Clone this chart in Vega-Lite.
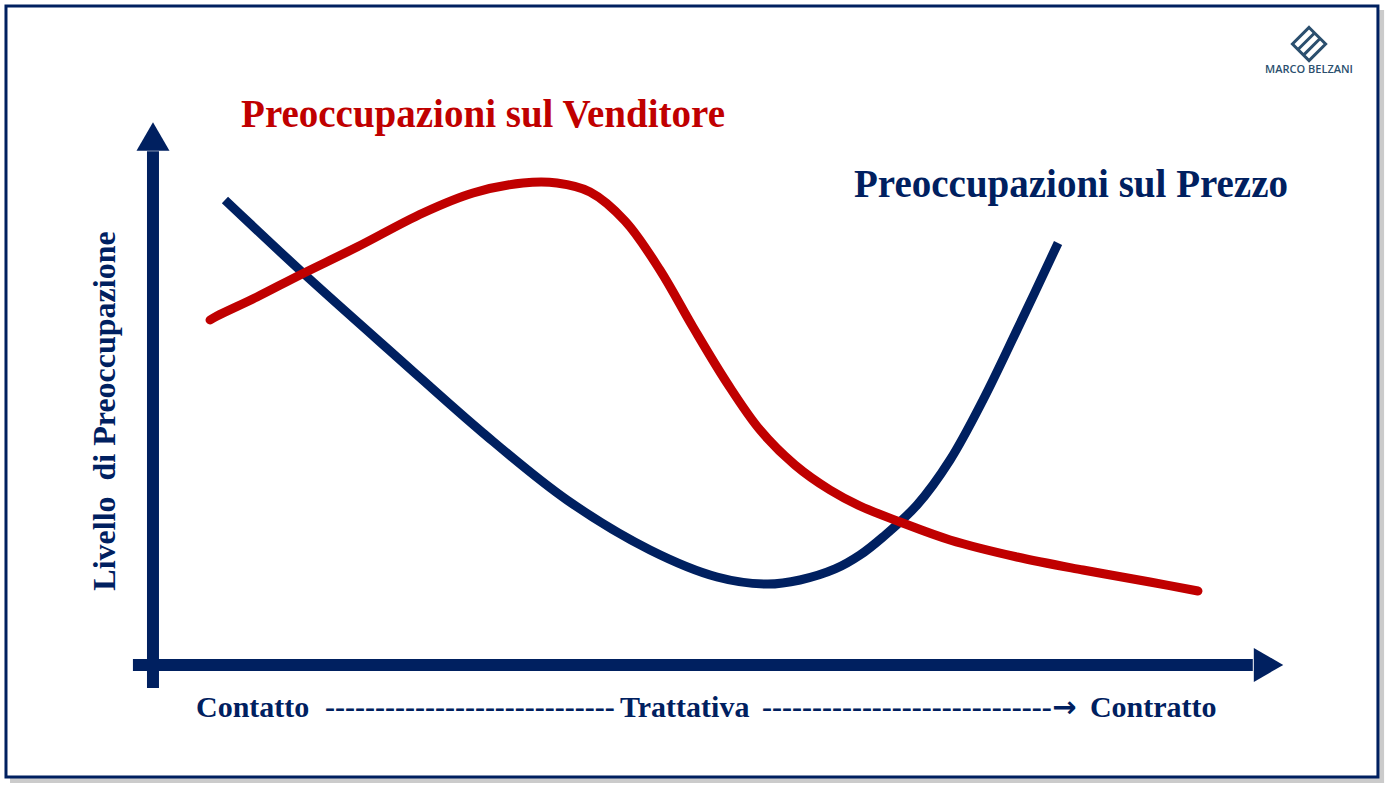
{
  "$schema": "https://vega.github.io/schema/vega-lite/v6.json",
  "width": 1392,
  "height": 792,
  "padding": 0,
  "autosize": {"type": "fit", "contains": "padding"},
  "background": "white",
  "config": {"view": {"stroke": null}},
  "datasets": {
    "shadow": [{"x": 0.72, "x2": 99.43, "y": 98.74, "y2": 1.14}],
    "frame": [{"x": 0.43, "x2": 98.99, "y": 99.24, "y2": 1.89}],
    "vaxis": [{"x": 10.99, "y": 13.13, "y2": 80.9}],
    "haxis": [{"x": 9.55, "x2": 90.0, "y": 16.04}],
    "uparrow": [{"x": 10.99, "y": 82.77}],
    "rightarrow": [{"x": 91.13, "y": 16.04}],
    "prezzo": [
      {"x": 16.16, "y": 74.75}, {"x": 21.77, "y": 65.53}, {"x": 28.52, "y": 54.92},
      {"x": 34.7, "y": 45.33}, {"x": 40.73, "y": 36.87}, {"x": 46.7, "y": 30.56},
      {"x": 51.51, "y": 27.15}, {"x": 55.1, "y": 26.26},
      {"x": 57.47, "y": 26.77}, {"x": 59.99, "y": 28.16}, {"x": 61.78, "y": 29.92},
      {"x": 63.43, "y": 32.2}, {"x": 65.88, "y": 36.24}, {"x": 68.25, "y": 41.92},
      {"x": 70.62, "y": 49.49}, {"x": 73.06, "y": 58.33}, {"x": 76.01, "y": 69.32}
    ],
    "venditore": [
      {"x": 15.09, "y": 59.6}, {"x": 15.59, "y": 60.1}, {"x": 18.46, "y": 62.5},
      {"x": 21.55, "y": 65.28}, {"x": 25.65, "y": 68.81}, {"x": 30.39, "y": 73.11},
      {"x": 33.98, "y": 75.63}, {"x": 37.57, "y": 76.89}, {"x": 40.01, "y": 76.89},
      {"x": 42.39, "y": 75.76}, {"x": 44.9, "y": 72.1}, {"x": 47.41, "y": 65.91},
      {"x": 49.78, "y": 58.71}, {"x": 52.23, "y": 51.64}, {"x": 54.6, "y": 45.71},
      {"x": 57.11, "y": 41.29}, {"x": 59.63, "y": 38.13}, {"x": 61.78, "y": 36.11},
      {"x": 64.66, "y": 34.09}, {"x": 68.25, "y": 31.82}, {"x": 73.06, "y": 29.67},
      {"x": 77.8, "y": 28.03}, {"x": 82.61, "y": 26.52}, {"x": 86.06, "y": 25.38}
    ],
    "titleRed": [{"x": 34.7, "y": 83.96, "t": "Preoccupazioni sul Venditore"}],
    "titleBlue": [{"x": 76.94, "y": 75.13, "t": "Preoccupazioni sul Prezzo"}],
    "ylabel": [{"x": 8.26, "y": 48.11, "t": "Livello\u00a0 di Preoccupazione"}],
    "xlabels": [
      {"x": 14.08, "y": 9.47, "t": "Contatto"},
      {"x": 23.35, "y": 9.47, "t": "-----------------------------"},
      {"x": 44.54, "y": 9.47, "t": "Trattativa"},
      {"x": 54.74, "y": 9.47, "t": "-----------------------------"},
      {"x": 78.3, "y": 9.47, "t": "Contratto"}
    ],
    "arrowchar": [{"x": 75.6, "y": 9.47, "t": "→"}],
    "logo": [{"x": 94.04, "y": 94.44}],
    "logotext": [{"x": 94.04, "y": 90.78, "t": "MARCO BELZANI"}]
  },
  "layer": [
    {
      "data": {"name": "shadow"},
      "mark": {"type": "rect", "color": "#a0a0a0", "opacity": 0.55},
      "encoding": {
        "x": {"field": "x", "type": "quantitative", "scale": {"domain": [0, 100], "nice": false, "zero": false}, "axis": null},
        "x2": {"field": "x2"},
        "y": {"field": "y", "type": "quantitative", "scale": {"domain": [0, 100], "nice": false, "zero": false}, "axis": null},
        "y2": {"field": "y2"}
      }
    },
    {
      "data": {"name": "frame"},
      "mark": {"type": "rect", "fill": "white", "stroke": "#002060", "strokeWidth": 3},
      "encoding": {
        "x": {"field": "x", "type": "quantitative", "axis": null},
        "x2": {"field": "x2"},
        "y": {"field": "y", "type": "quantitative", "axis": null},
        "y2": {"field": "y2"}
      }
    },
    {
      "data": {"name": "vaxis"},
      "mark": {"type": "rule", "color": "#002060", "strokeWidth": 12, "strokeCap": "butt"},
      "encoding": {
        "x": {"field": "x", "type": "quantitative", "axis": null},
        "y": {"field": "y", "type": "quantitative", "axis": null},
        "y2": {"field": "y2"}
      }
    },
    {
      "data": {"name": "haxis"},
      "mark": {"type": "rule", "color": "#002060", "strokeWidth": 12, "strokeCap": "butt"},
      "encoding": {
        "x": {"field": "x", "type": "quantitative", "axis": null},
        "x2": {"field": "x2"},
        "y": {"field": "y", "type": "quantitative", "axis": null}
      }
    },
    {
      "data": {"name": "uparrow"},
      "mark": {"type": "point", "shape": "triangle-up", "filled": true, "color": "#002060", "opacity": 1, "size": 1089, "strokeWidth": 0},
      "encoding": {
        "x": {"field": "x", "type": "quantitative", "axis": null},
        "y": {"field": "y", "type": "quantitative", "axis": null}
      }
    },
    {
      "data": {"name": "rightarrow"},
      "mark": {"type": "point", "shape": "triangle-right", "filled": true, "color": "#002060", "opacity": 1, "size": 1156, "strokeWidth": 0},
      "encoding": {
        "x": {"field": "x", "type": "quantitative", "axis": null},
        "y": {"field": "y", "type": "quantitative", "axis": null}
      }
    },
    {
      "data": {"name": "prezzo"},
      "mark": {"type": "line", "color": "#002060", "strokeWidth": 9, "interpolate": "catmull-rom"},
      "encoding": {
        "x": {"field": "x", "type": "quantitative", "axis": null},
        "y": {"field": "y", "type": "quantitative", "axis": null}
      }
    },
    {
      "data": {"name": "venditore"},
      "mark": {"type": "line", "color": "#C00000", "strokeWidth": 9, "interpolate": "catmull-rom", "strokeCap": "round"},
      "encoding": {
        "x": {"field": "x", "type": "quantitative", "axis": null},
        "y": {"field": "y", "type": "quantitative", "axis": null}
      }
    },
    {
      "data": {"name": "titleRed"},
      "mark": {"type": "text", "font": "Liberation Serif", "fontWeight": "bold", "fontSize": 39, "color": "#C00000", "align": "center", "baseline": "alphabetic"},
      "encoding": {
        "x": {"field": "x", "type": "quantitative", "axis": null},
        "y": {"field": "y", "type": "quantitative", "axis": null},
        "text": {"field": "t"}
      }
    },
    {
      "data": {"name": "titleBlue"},
      "mark": {"type": "text", "font": "Liberation Serif", "fontWeight": "bold", "fontSize": 39, "color": "#002060", "align": "center", "baseline": "alphabetic"},
      "encoding": {
        "x": {"field": "x", "type": "quantitative", "axis": null},
        "y": {"field": "y", "type": "quantitative", "axis": null},
        "text": {"field": "t"}
      }
    },
    {
      "data": {"name": "ylabel"},
      "mark": {"type": "text", "font": "Liberation Serif", "fontWeight": "bold", "fontSize": 32, "color": "#002060", "align": "center", "baseline": "alphabetic", "angle": 270},
      "encoding": {
        "x": {"field": "x", "type": "quantitative", "axis": null},
        "y": {"field": "y", "type": "quantitative", "axis": null},
        "text": {"field": "t"}
      }
    },
    {
      "data": {"name": "xlabels"},
      "mark": {"type": "text", "font": "Liberation Serif", "fontWeight": "bold", "fontSize": 30, "color": "#002060", "align": "left", "baseline": "alphabetic"},
      "encoding": {
        "x": {"field": "x", "type": "quantitative", "axis": null},
        "y": {"field": "y", "type": "quantitative", "axis": null},
        "text": {"field": "t"}
      }
    },
    {
      "data": {"name": "arrowchar"},
      "mark": {"type": "text", "font": "DejaVu Sans", "fontWeight": "bold", "fontSize": 29, "color": "#002060", "align": "left", "baseline": "alphabetic"},
      "encoding": {
        "x": {"field": "x", "type": "quantitative", "axis": null},
        "y": {"field": "y", "type": "quantitative", "axis": null},
        "text": {"field": "t"}
      }
    },
    {
      "data": {"name": "logo"},
      "mark": {"type": "point", "shape": "M0,-1L1,0L0,1L-1,0Z M-0.667,0.333L0.333,-0.667 M-0.333,0.667L0.667,-0.333", "filled": false, "color": "#2B4F6E", "opacity": 1, "size": 1100, "strokeWidth": 3},
      "encoding": {
        "x": {"field": "x", "type": "quantitative", "axis": null},
        "y": {"field": "y", "type": "quantitative", "axis": null}
      }
    },
    {
      "data": {"name": "logotext"},
      "mark": {"type": "text", "font": "Open Sans", "fontWeight": 600, "fontSize": 11, "color": "#2B4F6E", "align": "center", "baseline": "alphabetic"},
      "encoding": {
        "x": {"field": "x", "type": "quantitative", "axis": null},
        "y": {"field": "y", "type": "quantitative", "axis": null},
        "text": {"field": "t"}
      }
    }
  ]
}
